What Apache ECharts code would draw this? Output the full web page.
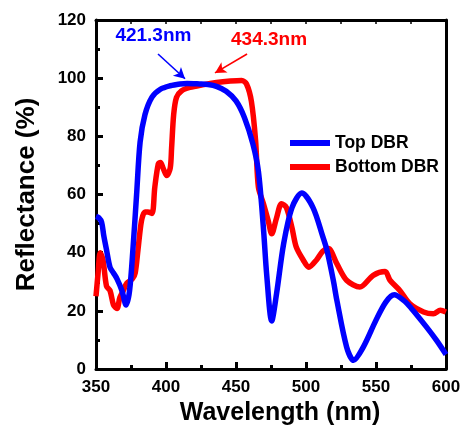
<!DOCTYPE html>
<html>
<head>
<meta charset="utf-8">
<script src="https://cdn.jsdelivr.net/npm/echarts@6/dist/echarts.min.js"></script>
<style>
html,body{margin:0;padding:0;background:#fff;}
#c{width:460px;height:428px;}
</style>
</head>
<body>
<div id="c"></div>
<script>
// ---- data ----
var xTicks = [350, 400, 450, 500, 550, 600];
var yTicks = [0, 20, 40, 60, 80, 100, 120];

var topWl = [350, 352, 354, 355.5, 357.5, 360, 362.5, 365, 368.5, 371.5, 374, 376.5, 379, 381.5, 385, 390, 396, 403, 410, 415, 424, 430, 436, 443, 450, 456, 462, 466, 469.5, 472, 475.5, 479, 484, 490, 497, 505, 512, 515, 519.5, 522, 529, 534, 541, 550, 557, 563, 570, 575, 586, 593, 600];
var topR  = [52.5, 52, 50.5, 46, 41, 35, 33, 31, 27, 22, 27, 42, 60, 78, 87.5, 93.5, 96.2, 97.4, 98, 98.2, 98, 97.8, 97.2, 95.5, 92.2, 86.5, 77.5, 68, 49, 32, 16.5, 26, 43, 55.5, 60.5, 55.5, 45.5, 40.8, 30.5, 23.7, 7.6, 3, 7.6, 16.8, 23, 25.5, 23.5, 21, 14.5, 10, 5];

var botWl = [350, 351.5, 353, 355, 357.5, 360, 362.5, 365, 367, 369.5, 372, 376, 378, 380, 382.5, 385, 387, 390, 392, 394.5, 396, 398, 400.5, 403, 404, 405.5, 407.5, 411, 417, 426, 436, 446, 454, 457.5, 461, 464, 466, 469.5, 473, 475.5, 479, 482.5, 486, 490, 493, 498, 502, 507.5, 512, 516, 522, 529, 538.5, 548, 556.5, 560, 567, 574, 584, 591, 596, 600];
var botR  = [25, 33, 40, 37.5, 28.5, 27, 22, 20.8, 24.5, 27, 29.5, 31, 33, 41, 51, 54, 54, 53.5, 62.5, 70.5, 71, 69, 66.5, 69, 76, 87.6, 93.4, 95.6, 96.8, 97.7, 98.5, 99, 99.2, 98, 92, 78.5, 62.5, 57, 51, 46.5, 52, 56.8, 55.5, 48.5, 42, 37.5, 35, 37.5, 40.5, 41.4, 36.2, 30.5, 28.2, 32.2, 33.5, 30.5, 27, 22.5, 19.6, 19, 20.2, 19.6];

var peakLabels = ['421.3nm', '434.3nm'];
var labelPos   = [[391, 114.5], [473.6, 113.3]];
var arrowFrom  = [[394.3, 108.3], [457.9, 108.3]];
var arrowTo    = [[413.6, 99.8], [435, 101.8]];
// --------------------------------------

function zip(a, b) { return a.map(function (v, i) { return [v, b[i]]; }); }

var FONT = 'Liberation Sans, Arial, sans-serif';
var BLUE = '#0000ff', RED = '#ff0000';

function annot(i, color) {
  return {
    markPoint: {
      silent: true, animation: false,
      symbol: 'rect', symbolSize: [1, 1],
      itemStyle: { color: 'rgba(0,0,0,0)' },
      label: { show: true, position: 'inside', formatter: peakLabels[i],
               color: color, fontFamily: FONT, fontWeight: 'bold', fontSize: 19 },
      data: [{ coord: labelPos[i] }]
    },
    markLine: {
      silent: true, animation: false,
      symbol: ['none', 'arrow'], symbolSize: [9, 11],
      label: { show: false },
      lineStyle: { color: color, width: 1.6, type: 'solid' },
      data: [[{ coord: arrowFrom[i] }, { coord: arrowTo[i] }]]
    }
  };
}

var chart = echarts.init(document.getElementById('c'), null, { renderer: 'canvas' });

var blueSeries = Object.assign({
  name: 'Top DBR', type: 'line', xAxisIndex: 0, yAxisIndex: 0,
  data: zip(topWl, topR), showSymbol: false, smooth: 0.3, z: 3,
  lineStyle: { color: BLUE, width: 5.5 }, itemStyle: { color: BLUE }
}, annot(0, BLUE));

var redSeries = Object.assign({
  name: 'Bottom DBR', type: 'line', xAxisIndex: 0, yAxisIndex: 0,
  data: zip(botWl, botR), showSymbol: false, smooth: 0.3, z: 2,
  lineStyle: { color: RED, width: 5.5 }, itemStyle: { color: RED }
}, annot(1, RED));

chart.setOption({
  animation: false,
  backgroundColor: '#fff',
  grid: { left: 96, right: 14, top: 20, bottom: 59, containLabel: false, outerBoundsMode: 'none' },
  legend: {
    data: ['Top DBR', 'Bottom DBR'],
    orient: 'vertical', left: 285, top: 129,
    icon: 'rect', itemWidth: 40, itemHeight: 6, itemGap: 6,
    textStyle: { fontFamily: FONT, fontWeight: 'bold', fontSize: 17.5, color: '#000', lineHeight: 18 }
  },
  xAxis: [{
    type: 'value', position: 'bottom', min: xTicks[0], max: xTicks[xTicks.length - 1], interval: 50,
    name: 'Wavelength (nm)', nameLocation: 'middle', nameGap: 29,
    nameTextStyle: { fontFamily: FONT, fontWeight: 'bold', fontSize: 25, color: '#000', padding: [0, 0, 0, 18] },
    axisLine: { show: true, onZero: false, lineStyle: { color: '#000', width: 3 } },
    axisTick: { show: true, inside: true, length: 7, lineStyle: { color: '#000', width: 3 } },
    minorTick: { show: true, splitNumber: 2, length: 4, lineStyle: { color: '#000', width: 3 } },
    axisLabel: { margin: 10, fontFamily: FONT, fontWeight: 'bold', fontSize: 17, color: '#000',
                 customValues: xTicks },
    splitLine: { show: false }
  }, {
    type: 'value', position: 'top', min: xTicks[0], max: xTicks[xTicks.length - 1], interval: 25,
    axisLine: { show: true, onZero: false, lineStyle: { color: '#000', width: 3 } },
    axisTick: { show: true, inside: true, length: 4, lineStyle: { color: '#000', width: 1.5 } },
    axisLabel: { show: false }, splitLine: { show: false }
  }],
  yAxis: [{
    type: 'value', position: 'left', min: yTicks[0], max: yTicks[yTicks.length - 1], interval: 20,
    name: 'Reflectance (%)', nameLocation: 'middle', nameGap: 56, nameRotate: 90,
    nameTextStyle: { fontFamily: FONT, fontWeight: 'bold', fontSize: 26, color: '#000' },
    axisLine: { show: true, onZero: false, lineStyle: { color: '#000', width: 3 } },
    axisTick: { show: true, inside: true, length: 7, lineStyle: { color: '#000', width: 3 } },
    minorTick: { show: true, splitNumber: 2, length: 4, lineStyle: { color: '#000', width: 3 } },
    axisLabel: { margin: 10, fontFamily: FONT, fontWeight: 'bold', fontSize: 17, color: '#000' },
    splitLine: { show: false }
  }, {
    type: 'value', position: 'right', min: yTicks[0], max: yTicks[yTicks.length - 1], interval: 20,
    axisLine: { show: true, onZero: false, lineStyle: { color: '#000', width: 3 } },
    axisTick: { show: false }, axisLabel: { show: false }, splitLine: { show: false }
  }],
  series: [redSeries, blueSeries]
});
</script>
</body>
</html>
